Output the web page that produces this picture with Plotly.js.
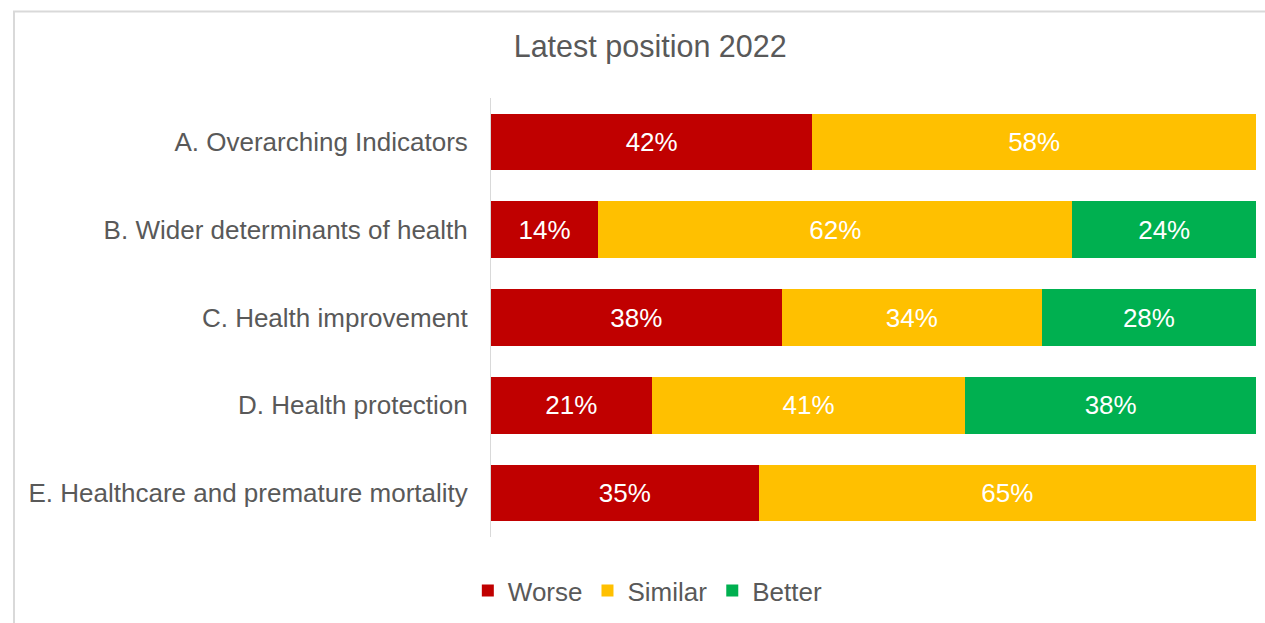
<!DOCTYPE html>
<html>
<head>
<meta charset="utf-8">
<script src="https://cdn.plot.ly/plotly-3.0.1.min.js"></script>
<style>html,body{margin:0;padding:0;background:#fff;}#chart{width:1265px;height:623px;}</style>
</head>
<body>
<div id="chart"></div>
<script>
const categories = [
  "A. Overarching Indicators",
  "B. Wider determinants of health",
  "C. Health improvement",
  "D. Health protection",
  "E. Healthcare and premature mortality"
];
const worse   = [42, 14, 38, 21, 35];
const similar = [58, 62, 34, 41, 65];
const better  = [0, 24, 28, 38, 0];
const seriesNames = ["Worse", "Similar", "Better"];
const seriesColors = ["#C00000", "#FFC000", "#00B050"];
const titleText = "Latest position 2022";

const FONT = "Liberation Sans, Arial, sans-serif";
const series = [worse, similar, better];
const traces = series.map((vals, i) => ({
  type: "bar",
  orientation: "h",
  name: seriesNames[i],
  y: categories,
  x: vals,
  marker: {color: seriesColors[i]},
  text: vals.map(v => v > 0 ? v + "%" : ""),
  textposition: "inside",
  insidetextanchor: "middle",
  textangle: 0,
  constraintext: "none",
  insidetextfont: {family: FONT, size: 26, color: "#ffffff"},
  hoverinfo: "skip"
}));

const layout = {
  width: 1265,
  height: 623,
  margin: {l: 491, r: 9, t: 98, b: 83, pad: 0},
  paper_bgcolor: "#ffffff",
  plot_bgcolor: "#ffffff",
  barmode: "stack",
  bargap: 0.355,
  font: {family: FONT, color: "#595959", size: 26},
  title: {
    text: titleText,
    font: {family: FONT, size: 30.5, color: "#595959"},
    xref: "container", x: 0.514, xanchor: "center",
    yref: "container", y: 0.926, yanchor: "middle"
  },
  xaxis: {
    range: [0, 100],
    visible: false,
    fixedrange: true
  },
  yaxis: {
    autorange: "reversed",
    showline: true,
    linecolor: "#d9d9d9",
    linewidth: 1,
    showgrid: false,
    zeroline: false,
    ticks: "",
    ticklabelstandoff: 17,
    tickfont: {family: FONT, size: 26, color: "#595959"},
    fixedrange: true
  },
  showlegend: true,
  legend: {
    orientation: "h",
    x: 0.205, xanchor: "center",
    y: -0.122, yanchor: "middle",
    font: {family: FONT, size: 26, color: "#595959"},
    itemwidth: 30,
    traceorder: "normal",
    itemclick: false,
    itemdoubleclick: false
  },
  shapes: [{
    type: "rect",
    xref: "paper", yref: "paper",
    x0: -0.6235, x1: 1.03, y0: -0.22, y1: 1.1968,
    line: {color: "#d9d9d9", width: 2},
    fillcolor: "rgba(0,0,0,0)",
    layer: "below"
  }]
};

Plotly.newPlot("chart", traces, layout, {displayModeBar: false, staticPlot: true});
</script>
</body>
</html>
